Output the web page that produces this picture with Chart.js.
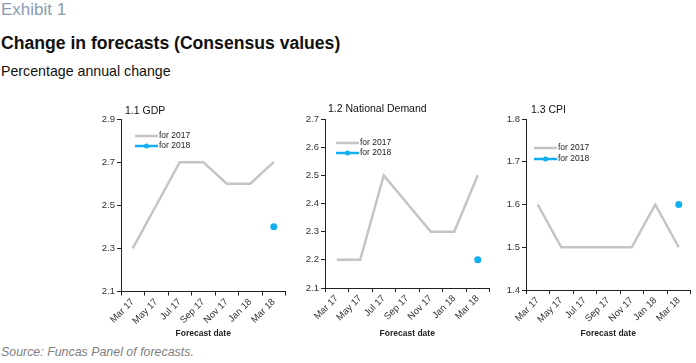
<!DOCTYPE html>
<html>
<head>
<meta charset="utf-8">
<script src="https://cdn.jsdelivr.net/npm/chart.js@4.4.1/dist/chart.umd.min.js"></script>
<style>
body{margin:0;width:696px;height:363px;background:#fff;font-family:"Liberation Sans",Arial,sans-serif;position:relative;overflow:hidden}
.t{position:absolute;left:1px;white-space:nowrap}
#exh{top:0;font-size:17px;line-height:20px;color:#8b9bb4}
#ttl{top:33px;font-size:17.6px;font-weight:bold;line-height:20px;color:#111}
#sub{top:61px;font-size:14.2px;line-height:20px;color:#111}
#src{top:344px;font-size:12.4px;line-height:17px;font-style:italic;color:#808080}
canvas{position:absolute;top:98px}
</style>
</head>
<body>
<div class="t" id="exh">Exhibit 1</div>
<div class="t" id="ttl">Change in forecasts (Consensus values)</div>
<div class="t" id="sub">Percentage annual change</div>
<canvas id="gdp" width="202" height="246" style="left:88px"></canvas>
<canvas id="demand" width="202" height="246" style="left:292px"></canvas>
<canvas id="cpi" width="202" height="246" style="left:494px"></canvas>
<div class="t" id="src">Source: Funcas Panel of forecasts.</div>
<script>
const categories = ['Mar 17', 'May 17', 'Jul 17', 'Sep 17', 'Nov 17', 'Jan 18', 'Mar 18'];
const seriesNames = ['for 2017', 'for 2018'];

const gdp2017 = [2.3, 2.5, 2.7, 2.7, 2.6, 2.6, 2.7];
const gdp2018 = [null, null, null, null, null, null, 2.4];
const gdpTicks = [2.1, 2.3, 2.5, 2.7, 2.9];

const demand2017 = [2.2, 2.2, 2.5, 2.4, 2.3, 2.3, 2.5];
const demand2018 = [null, null, null, null, null, null, 2.2];
const demandTicks = [2.1, 2.2, 2.3, 2.4, 2.5, 2.6, 2.7];

const cpi2017 = [1.6, 1.5, 1.5, 1.5, 1.5, 1.6, 1.5];
const cpi2018 = [null, null, null, null, null, null, 1.6];
const cpiTicks = [1.4, 1.5, 1.6, 1.7, 1.8];

const FONT = '"Liberation Sans", Arial, sans-serif';
Chart.defaults.font.family = FONT;
Chart.defaults.color = '#333';

// panel title + legend drawn inside the plot area
const panelDecor = {
  id: 'panelDecor',
  afterDraw(chart, args, opts) {
    const {ctx, chartArea} = chart;
    ctx.save();
    ctx.textBaseline = 'middle';
    ctx.fillStyle = '#111';
    ctx.font = '10.5px ' + FONT;
    ctx.fillText(opts.title, chartArea.left + opts.titleX, chartArea.top + opts.titleY);
    ctx.font = '8.5px ' + FONT;
    chart.data.datasets.forEach((ds, i) => {
      const y = chartArea.top + opts.legY + i * opts.legGap;
      const x0 = chartArea.left + opts.legX;
      const x1 = x0 + 23;
      ctx.strokeStyle = ds.borderColor;
      ctx.lineWidth = 2.5;
      ctx.beginPath();
      ctx.moveTo(x0, y);
      ctx.lineTo(x1, y);
      ctx.stroke();
      if (ds.pointRadius > 0) {
        ctx.fillStyle = ds.borderColor;
        ctx.beginPath();
        ctx.arc((x0 + x1) / 2, y, 2.5, 0, Math.PI * 2);
        ctx.fill();
      }
      ctx.fillStyle = '#222';
      ctx.fillText(ds.label, x1 + 1, y);
    });
    ctx.restore();
  }
};

function createPanel(id, title, d17, d18, yTicks, box, deco) {
  return new Chart(document.getElementById(id), {
    type: 'line',
    data: {
      labels: categories,
      datasets: [
        {label: seriesNames[0], data: d17, borderColor: '#c4c4c4', borderWidth: 2.5, pointRadius: 0, tension: 0},
        {label: seriesNames[1], data: d18, borderColor: '#12aef0', backgroundColor: '#12aef0', borderWidth: 2.5, pointRadius: 3.5, pointBorderWidth: 0}
      ]
    },
    options: {
      responsive: false,
      animation: false,
      layout: {padding: {top: box.top, right: box.right, left: 0, bottom: 0}},
      plugins: {
        legend: {display: false},
        tooltip: {enabled: false},
        panelDecor: Object.assign({title: title}, deco)
      },
      scales: {
        x: {
          offset: true,
          grid: {offset: true, drawOnChartArea: false, tickLength: 4, color: '#222'},
          border: {color: '#222', width: 1},
          ticks: {minRotation: 45, maxRotation: 45, padding: 1, autoSkip: false, font: {size: 9.5}, color: '#333'},
          title: {display: true, text: 'Forecast date', font: {size: 8.5, weight: 'bold'}, color: '#222', padding: {top: 2, bottom: 5}},
          afterFit: (s) => { s.height = box.xh; }
        },
        y: {
          min: yTicks[0],
          max: yTicks[yTicks.length - 1],
          grid: {drawOnChartArea: false, tickLength: 4, color: '#222'},
          border: {color: '#222', width: 1},
          ticks: {font: {size: 9.5}, color: '#333', padding: 2, callback: (v) => v.toFixed(1)},
          afterBuildTicks: (s) => { s.ticks = yTicks.map(v => ({value: v})); },
          afterFit: (s) => { s.width = box.yw; }
        }
      }
    },
    plugins: [panelDecor]
  });
}

createPanel('gdp', '1.1 GDP', gdp2017, gdp2018, gdpTicks,
  {top: 21, right: 4.5, yw: 33, xh: 52.5},
  {titleX: 4, titleY: -8, legX: 14, legY: 17, legGap: 10});
createPanel('demand', '1.2 National Demand', demand2017, demand2018, demandTicks,
  {top: 21, right: 4.5, yw: 33, xh: 56},
  {titleX: 3, titleY: -10, legX: 11, legY: 24, legGap: 10});
createPanel('cpi', '1.3 CPI', cpi2017, cpi2018, cpiTicks,
  {top: 21, right: 5.5, yw: 32, xh: 54},
  {titleX: 5, titleY: -9, legX: 8, legY: 29, legGap: 11});
</script>
</body>
</html>
